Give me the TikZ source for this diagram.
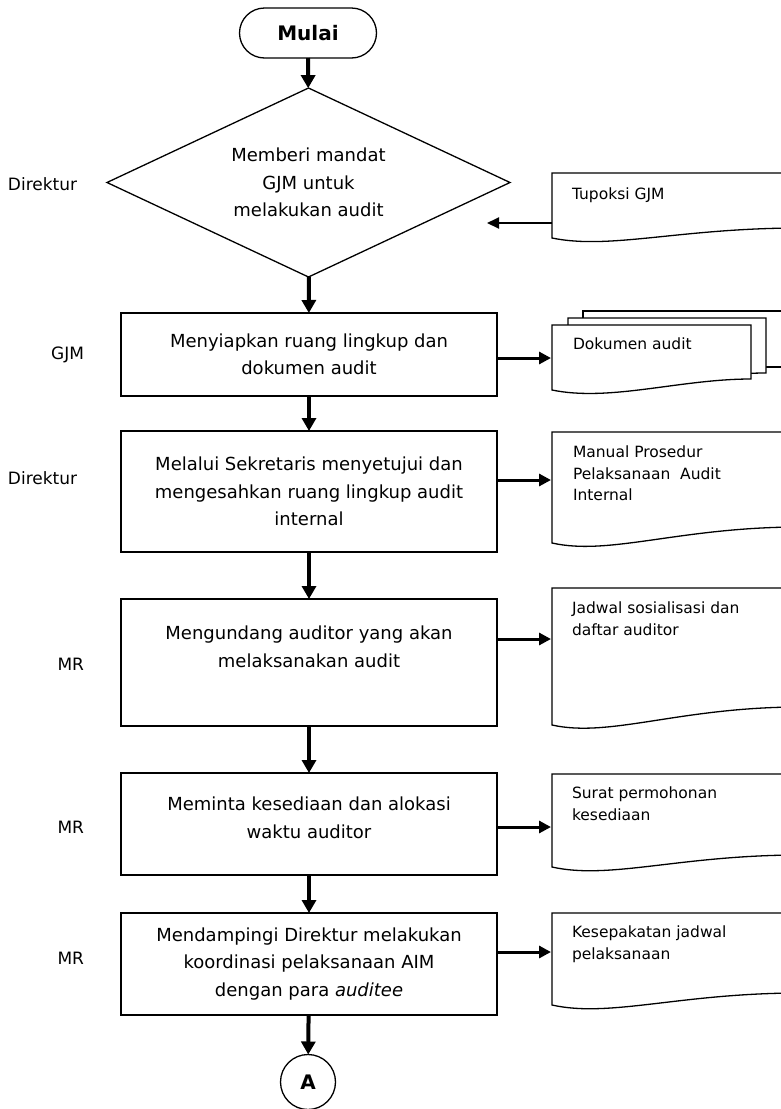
\documentclass[tikz,border=0pt]{standalone}
\usepackage{fontspec}
\setmainfont{DejaVu Sans}
\usetikzlibrary{shapes.geometric,arrows.meta}
\begin{document}
\begin{tikzpicture}[x=1pt,y=-1pt,
  every node/.style={inner sep=0pt,outer sep=0pt},
  box/.style={draw,line width=1.3pt,minimum width=376pt,anchor=north west},
  btext/.style={align=center,font=\fontsize{18}{27.5}\selectfont},
  dtext/.style={align=left,anchor=north west,font=\fontsize{15.5}{21.5}\selectfont},
  lab/.style={anchor=east,font=\fontsize{17}{20}\selectfont},
  labw/.style={anchor=west,font=\fontsize{17}{20}\selectfont},
  docline/.style={line width=1.3pt,fill=white},
  varr/.style={line width=4pt,-{Triangle[length=13pt,width=14pt]}},
  harr/.style={line width=3pt,-{Triangle[length=12pt,width=12pt]}},
  larr/.style={line width=2pt,-{Triangle[length=12pt,width=11pt]}}]
\useasboundingbox (0,0) rectangle (781,1109);
\clip (0,0) rectangle (781,1109);

% start
\node[draw,line width=1.3pt,rounded corners=25pt,minimum width=137pt,minimum height=50pt,
  font=\bfseries\fontsize{20}{24}\selectfont] (start) at (308,33) {Mulai};

% decision
\node[draw,line width=1.3pt,shape=diamond,aspect=2.13,minimum width=403pt,minimum height=189pt,
  btext] (dec) at (308.5,182.5) {Memberi mandat\\GJM untuk\\melakukan audit};

% process boxes
\node[box,minimum height=83pt] (b1) at (121,313) {};
\node[btext] (t1) at (b1.center) {Menyiapkan ruang lingkup dan\\dokumen audit};
\node[box,minimum height=121pt] (b2) at (121,431) {};
\node[btext] (t2) at (b2.center) {Melalui Sekretaris menyetujui dan\\mengesahkan ruang lingkup audit\\internal};
\node[box,minimum height=127pt] (b3) at (121,599) {};
\node[btext,anchor=north] (t3) at ([yshift=-27pt]b3.north) {Mengundang auditor yang akan\\melaksanakan audit};
\node[box,minimum height=102pt] (b4) at (121,773) {};
\node[btext,anchor=north] (t4) at ([yshift=-24pt]b4.north) {Meminta kesediaan dan alokasi\\waktu auditor};
\node[box,minimum height=102pt] (b5) at (121,913) {};
\node[btext] (t5) at (b5.center) {Mendampingi Direktur melakukan\\koordinasi pelaksanaan AIM\\dengan para \textit{auditee}};

% connector
\node[draw,line width=1.3pt,circle,minimum size=55pt,font=\bfseries\fontsize{20}{24}\selectfont] (conA) at (308,1082) {A};

% lane labels
\node[labw] (l0) at (8,184) {Direktur};
\node[lab] (l1) at (84,355) {GJM};
\node[labw] (l2) at (8,478) {Direktur};
\node[lab] (l3) at (84,664) {MR};
\node[lab] (l4) at (84,827) {MR};
\node[lab] (l5) at (84,958) {MR};

% documents
% Tupoksi GJM
\draw[docline] (552,173) -- (800,173) -- (800,228) .. controls (680,228) and (610,250) .. (552,238) -- cycle;
\node[dtext] (d0) at (572,188) {Tupoksi GJM};
% Dokumen audit (stack)
\draw[docline] (583,311) -- (800,311) -- (800,367) -- (583,367) -- cycle;
\draw[docline] (568,318) -- (766,318) -- (766,373) .. controls (700,373) and (620,392) .. (568,384) -- cycle;
\draw[docline] (552,325) -- (751,325) -- (751,379) .. controls (680,379) and (610,402) .. (552,390) -- cycle;
\node[dtext] (d1) at (573,338) {Dokumen audit};
% Manual prosedur
\draw[docline] (552,432) -- (800,432) -- (800,527) .. controls (680,527) and (610,556) .. (552,543) -- cycle;
\node[dtext] (d2) at (573,446) {Manual Prosedur\\Pelaksanaan~~Audit\\Internal};
% Jadwal
\draw[docline] (552,588) -- (800,588) -- (800,707) .. controls (680,707) and (610,738) .. (552,725) -- cycle;
\node[dtext] (d3) at (572,602) {Jadwal sosialisasi dan\\daftar auditor};
% Surat
\draw[docline] (552,774) -- (800,774) -- (800,855) .. controls (680,855) and (610,880) .. (552,867) -- cycle;
\node[dtext] (d4) at (572,787) {Surat permohonan\\kesediaan};
% Kesepakatan
\draw[docline] (552,913) -- (800,913) -- (800,993) .. controls (680,993) and (610,1018) .. (552,1005) -- cycle;
\node[dtext] (d5) at (572,926) {Kesepakatan jadwal\\pelaksanaan};

\coordinate (in0) at (552,223);
\coordinate (in1) at (551,358);
\coordinate (in2) at (551,480);
\coordinate (in3) at (551,639);
\coordinate (in4) at (551,827);
\coordinate (in5) at (551,952);
\coordinate (out0) at (487,223);

% flow arrows
\draw[varr] (start) -- (dec);
\draw[varr] (dec) -- (b1);
\draw[varr] (b1) -- (b2);
\draw[varr] (b2) -- (b3);
\draw[varr] (b3) -- (b4);
\draw[varr] (b4) -- (b5);
\draw[varr] (b5) -- (conA);

% document arrows
\draw[larr] (in0) -- (out0);
\draw[harr] (b1.east |- in1) -- (in1);
\draw[harr] (b2.east |- in2) -- (in2);
\draw[harr] (b3.east |- in3) -- (in3);
\draw[harr] (b4.east |- in4) -- (in4);
\draw[harr] (b5.east |- in5) -- (in5);
\end{tikzpicture}
\end{document}
